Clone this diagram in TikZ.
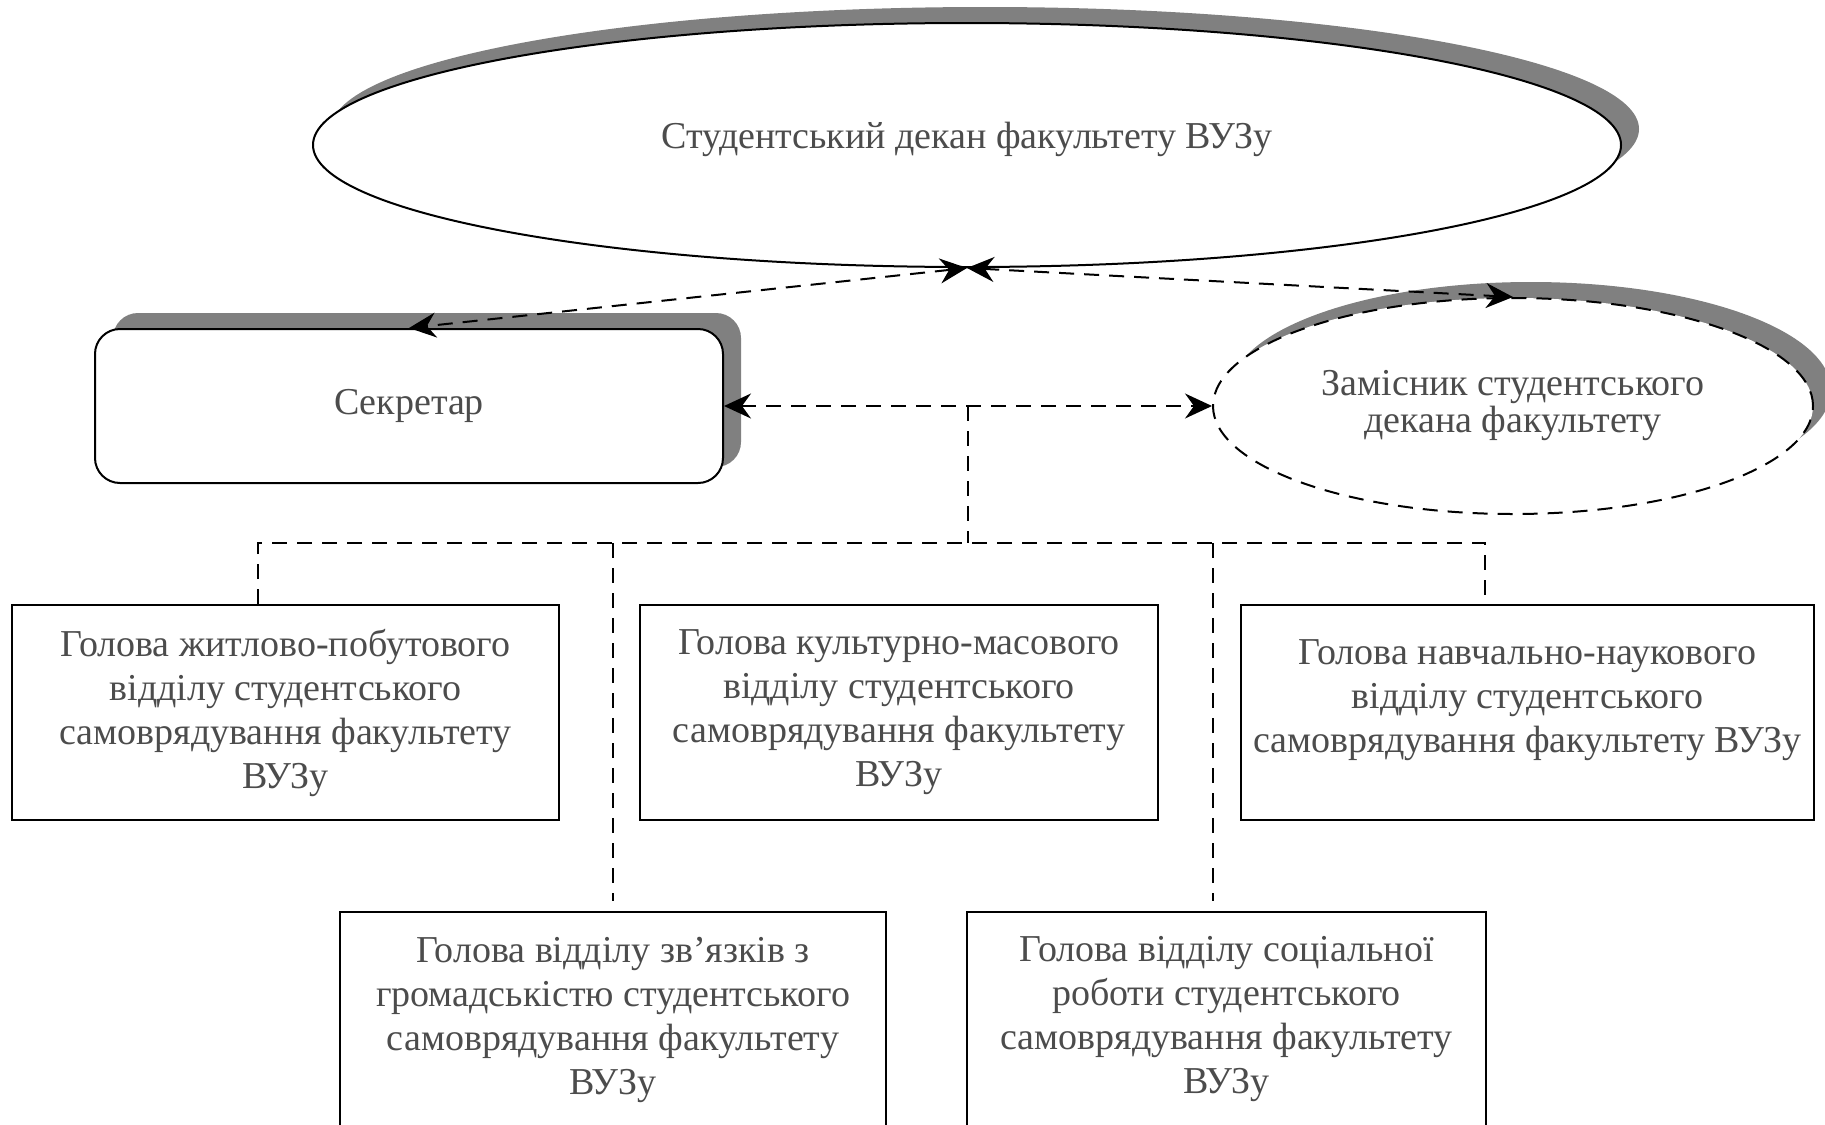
\documentclass[tikz,border=0pt]{standalone}
\usepackage{fontspec}
\setmainfont{Liberation Serif}
\usetikzlibrary{shapes.geometric,arrows.meta,shadows,calc}
\begin{document}
\begin{tikzpicture}[x=0.5pt,y=-0.5pt,
  >={Stealth[length=13.5pt,width=12.5pt,inset=4.5pt]},
  txt/.style={text=black!70, font=\fontsize{19pt}{22pt}\selectfont, align=center},
  shad/.style={drop shadow={shadow xshift=9pt, shadow yshift=8pt, fill=black!50, opacity=1}},
  bx/.style={draw, line width=1pt, rectangle, inner sep=0pt, fill=white, txt},
  con/.style={dash pattern=on 7.5pt off 5pt, line width=1pt}
]
\useasboundingbox (0,0) rectangle (1825,1124);
\clip (0,0) rectangle (1825,1124);

% top: dean
\node[ellipse, draw, line width=1pt, fill=white, shad, minimum width=654pt, minimum height=122pt, inner sep=0pt, txt] (dean) at (967,145) {\raisebox{3pt}[\height][\depth]{Студентський декан факультету ВУЗу}};

% secretary
\node[draw, rounded corners=12.5pt, line width=1pt, fill=white, shad, minimum width=314pt, minimum height=77pt, inner sep=0pt, txt] (sec) at (409,406) {Секретар};

% deputy
\node[ellipse, draw, dash pattern=on 7.5pt off 5pt, line width=1pt, fill=white, shad, minimum width=300pt, minimum height=108pt, inner sep=0pt, txt, font=\fontsize{19pt}{18.5pt}\selectfont] (dep) at (1513,406) {Замісник студентського\\декана факультету};

% row 1
\node[bx, minimum width=273.5pt, minimum height=107.5pt] (b1) at (285.5,712.5) {Голова житлово-побутового\\відділу студентського\\самоврядування факультету\\ВУЗу};
\node[bx, minimum width=259pt, minimum height=107.5pt] (b2) at (899,712.5) {Голова культурно-масового\\відділу студентського\\самоврядування факультету\\ВУЗу};
\node[bx, minimum width=286.5pt, minimum height=107.5pt] (b3) at (1527.5,712.5) {Голова навчально-наукового\\відділу студентського\\самоврядування факультету ВУЗу\\[-6pt]\mbox{}};

% row 2
\node[bx, minimum width=273pt, minimum height=107.5pt] (b4) at (613,1019.5) {Голова відділу зв’язків з\\громадськістю студентського\\самоврядування факультету\\ВУЗу};
\node[bx, minimum width=259.5pt, minimum height=107.5pt] (b5) at (1226.5,1019.5) {Голова відділу соціальної\\роботи студентського\\самоврядування факультету\\ВУЗу};

% connectors
\draw[con,<->] (dean.south) -- (sec.north);
\draw[con,<->] (dean.south) -- (dep.north);
\draw[con,<->] (sec.east) -- (dep.west);

\coordinate (mid) at ($(sec.east)!0.5!(dep.west)$);
\coordinate (busL) at (258,543);
\coordinate (busR) at (1485,543);
\coordinate (j4) at (613,543);
\coordinate (j5) at (1213,543);

\draw[con] (mid) -- (mid |- busL);
\draw[con] (b1.north -| busL) -- (busL) -- (busR) -- (b3.north -| busR);
\draw[con, shorten >=5pt] (j4) -- (b4.north -| j4);
\draw[con, shorten >=5pt] (j5) -- (b5.north -| j5);
\end{tikzpicture}
\end{document}
